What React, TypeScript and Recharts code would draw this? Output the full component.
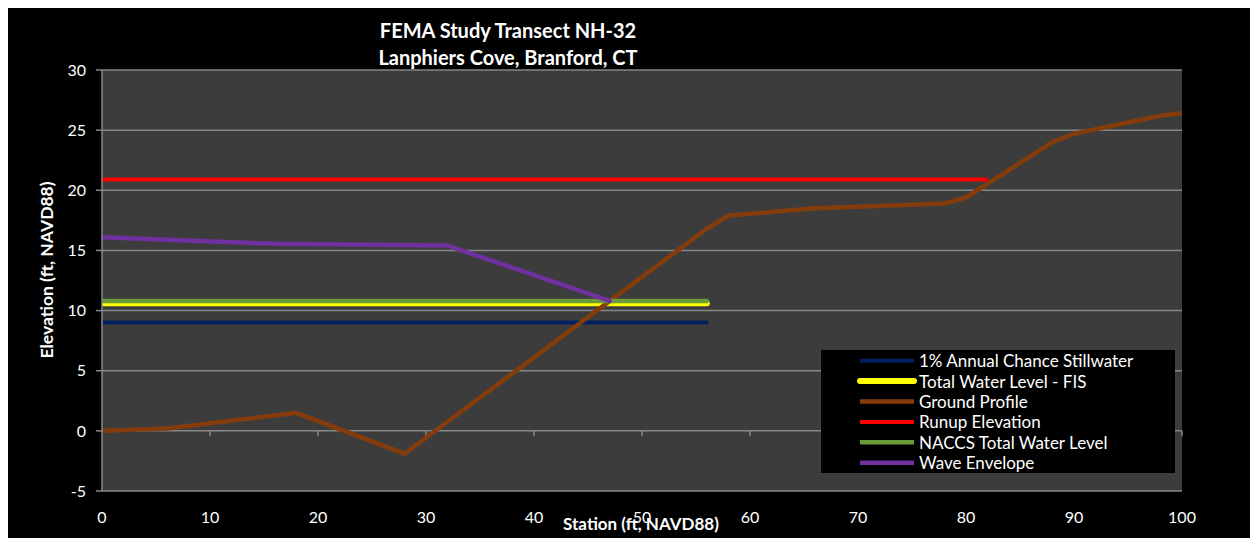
import React from 'react';
import { LineChart, Line, XAxis, YAxis, CartesianGrid, Legend, ReferenceLine } from 'recharts';

// ---- Data ----
const xTicks = [0, 10, 20, 30, 40, 50, 60, 70, 80, 90, 100];
const yTicks = [-5, 0, 5, 10, 15, 20, 25, 30];

const stillwaterStations = [0, 56];
const stillwaterElev = [9.0, 9.0];

const fisStations = [0, 56];
const fisElev = [10.6, 10.6];

const groundStations = [0, 6, 18, 28, 56, 58, 66, 78, 80, 88, 90, 98, 100];
const groundElev = [0.0, 0.2, 1.5, -1.9, 16.8, 17.9, 18.5, 18.9, 19.4, 24.0, 24.7, 26.2, 26.4];

const runupStations = [0, 82];
const runupElev = [20.9, 20.9];

const naccsStations = [0, 56];
const naccsElev = [10.8, 10.8];

const waveStations = [0, 16, 32, 47];
const waveElev = [16.1, 15.55, 15.4, 10.8];

const toPoints = (xs: number[], ys: number[]) => xs.map((x, i) => ({ x, y: ys[i] }));

// ---- Styles ----
const FONT = 'Lato, "Open Sans", sans-serif';
const GRID = '#878787';

const series = [
  { name: '1% Annual Chance Stillwater', data: toPoints(stillwaterStations, stillwaterElev), color: '#002060', width: 4, cap: 'round' },
  { name: 'Total Water Level - FIS', data: toPoints(fisStations, fisElev), color: '#ffff00', width: 6, cap: 'round' },
  { name: 'Ground Profile', data: toPoints(groundStations, groundElev), color: '#843c0c', width: 4.5, cap: 'butt' },
  { name: 'Runup Elevation', data: toPoints(runupStations, runupElev), color: '#ff0000', width: 4, cap: 'butt' },
  { name: 'NACCS Total Water Level', data: toPoints(naccsStations, naccsElev), color: '#6a9a3a', width: 4.5, cap: 'round' },
  { name: 'Wave Envelope', data: toPoints(waveStations, waveElev), color: '#7030a0', width: 4.5, cap: 'round' },
];

const LEG_W = 354;
const LEG_H = 123;

const renderLegend = () => (
  <svg width={LEG_W} height={LEG_H} style={{ display: 'block' }}>
    <rect x={0} y={0} width={LEG_W} height={LEG_H} fill="#000" />
    {series.map((s, i) => {
      const y = 10.7 + i * 20.4;
      return (
        <g key={s.name}>
          <line x1={39} x2={93} y1={y} y2={y} stroke={s.color} strokeWidth={s.width} strokeLinecap={s.name === 'Total Water Level - FIS' ? 'round' : 'butt'} />
          <text x={98} y={y} dominantBaseline="central" fill="#fff" fontSize={17} fontFamily={FONT}>
            {s.name}
          </text>
        </g>
      );
    })}
  </svg>
);

const XTick = (props: any) => {
  const { x, y, payload } = props;
  return (
    <text x={x} y={y + 25} textAnchor="middle" dominantBaseline="central" fill="#fff" fontSize={16} fontFamily={FONT}>
      {payload.value}
    </text>
  );
};

export default function App() {
  return (
    <div style={{ position: 'fixed', left: 8, top: 8, width: 1242, height: 530, background: '#000', overflow: 'hidden' }}>
      <LineChart width={1242} height={530} margin={{ top: 62, right: 68, left: 34, bottom: 17 }}>
        <CartesianGrid vertical={false} stroke={GRID} strokeWidth={1.5} fill="#3c3c3c" />
        <XAxis
          type="number"
          dataKey="x"
          domain={[0, 100]}
          ticks={xTicks}
          allowDataOverflow
          axisLine={false}
          tickLine={false}
          tickSize={0}
          tickMargin={0}
          height={30}
          tick={<XTick />}
        />
        <YAxis
          type="number"
          dataKey="y"
          domain={[-5, 30]}
          ticks={yTicks}
          allowDataOverflow
          width={60}
          axisLine={{ stroke: GRID, strokeWidth: 1.5 }}
          tickLine={{ stroke: GRID, strokeWidth: 1.5 }}
          tickSize={6}
          tickMargin={10}
          tick={{ fill: '#fff', fontSize: 16, fontFamily: FONT }}
        />
        {xTicks.filter((t) => t !== 0).map((t) => (
          <ReferenceLine
            key={'xt' + t}
            segment={[{ x: t, y: 0 }, { x: t, y: -0.45 }]}
            stroke={GRID}
            strokeWidth={1.5}
            ifOverflow="visible"
          />
        ))}
        {series.map((s) => (
          <Line
            key={s.name}
            name={s.name}
            data={s.data}
            dataKey="y"
            type="linear"
            stroke={s.color}
            strokeWidth={s.width}
            strokeLinecap={s.cap as any}
            strokeLinejoin="round"
            dot={false}
            activeDot={false}
            isAnimationActive={false}
          />
        ))}
        <Legend
          layout="vertical"
          align="center"
          verticalAlign="middle"
          content={renderLegend}
          wrapperStyle={{ position: 'absolute', left: 813, top: 342, width: LEG_W, height: LEG_H }}
        />
      </LineChart>
      <div style={{ position: 'absolute', left: 300, top: 9, width: 400, textAlign: 'center', color: '#fff', fontFamily: FONT, fontWeight: 700, fontSize: 20, lineHeight: '27px' }}>
        <div>FEMA Study Transect NH-32</div>
        <div>Lanphiers Cove, Branford, CT</div>
      </div>
      <div style={{ position: 'absolute', left: 39 - 150, top: 262 - 10, width: 300, height: 20, lineHeight: '20px', textAlign: 'center', color: '#fff', fontFamily: FONT, fontWeight: 700, fontSize: 17.5, transform: 'rotate(-90deg)', whiteSpace: 'nowrap' }}>
        Elevation (ft, NAVD88)
      </div>
      <div style={{ position: 'absolute', left: 633 - 150, top: 516 - 10, width: 300, height: 20, lineHeight: '20px', textAlign: 'center', color: '#fff', fontFamily: FONT, fontWeight: 700, fontSize: 17, whiteSpace: 'nowrap' }}>
        Station (ft, NAVD88)
      </div>
    </div>
  );
}
